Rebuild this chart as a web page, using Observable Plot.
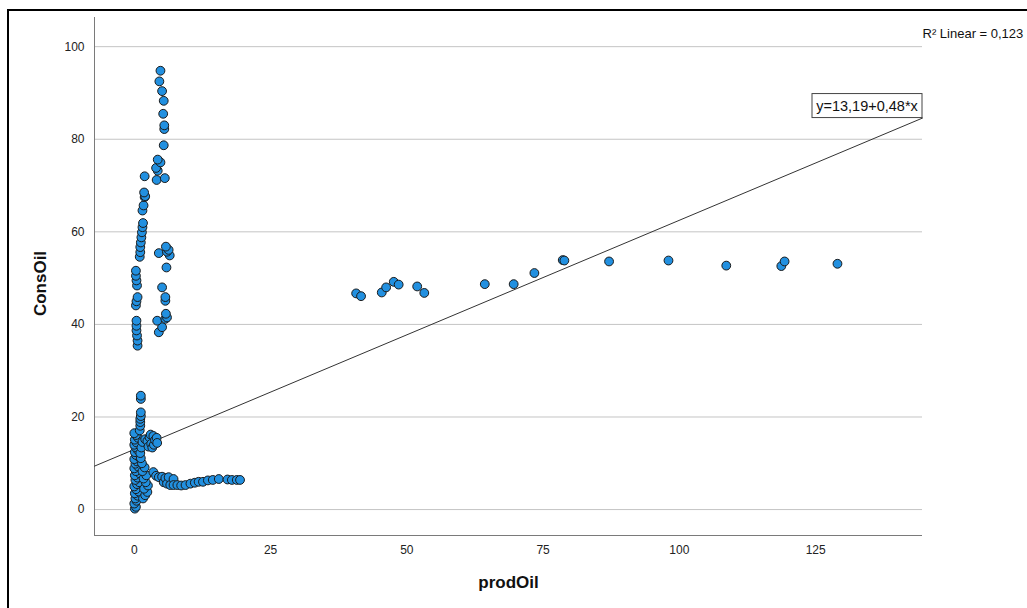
<!DOCTYPE html>
<html>
<head>
<meta charset="utf-8">
<script src="https://cdn.jsdelivr.net/npm/d3@7"></script>
<script src="https://cdn.jsdelivr.net/npm/@observablehq/plot@0.6"></script>
<style>
  html, body { margin: 0; padding: 0; background: #fff; overflow: hidden; }
  #wrap { position: relative; width: 1027px; height: 608px; overflow: hidden; }
  #border { position: absolute; left: 7px; top: 9px; width: 1100px; height: 700px; border: 2px solid #000; box-sizing: border-box; }
  #chart { position: absolute; left: 0; top: 0; }
</style>
</head>
<body>
<div id="wrap"><div id="border"></div><div id="chart"></div></div>
<script>
// ---- data (prodOil, ConsOil) ----
const colZeroLow = [[0.1,0.2],[0.3,0.6],[0.0,1.3],[0.4,1.9],[0.2,2.4],[0.6,3.0],[0.1,3.5],[0.8,3.9],[0.3,4.4],[0.0,5.0],[0.5,5.5],[0.9,5.9],[0.2,6.4],[0.6,6.9],[0.1,7.4],[1.0,7.8],[0.3,8.3],[0.0,8.9],[0.7,9.3],[0.2,9.9],[0.5,10.4],[0.0,10.9],[0.9,11.3],[0.3,11.8],[0.1,12.4],[0.6,12.9],[0.2,13.5],[0.0,14.0],[0.4,14.5],[0.1,15.1],[0.7,15.5],[0.3,16.1],[0.0,16.5]];
const colZeroRight = [[1.6,2.4],[2.0,3.1],[2.4,3.8],[1.8,4.5],[2.5,5.2],[2.1,5.9],[1.7,6.7],[2.2,7.4],[1.5,8.3],[1.9,9.1],[1.4,10.0],[1.2,11.1],[1.1,12.2],[1.3,13.4],[1.5,14.6]];
const colZeroUpper = [[1.0,17.1],[1.1,18.1],[1.1,18.9],[1.1,19.6],[1.2,20.2],[1.2,21.0],[1.2,23.9],[1.2,24.6]];
const clusterFifteen = [[2.0,15.2],[2.4,14.8],[2.6,13.6],[2.8,15.6],[3.0,16.2],[3.1,14.2],[3.3,13.4],[3.5,15.9],[3.6,14.0],[3.8,15.0],[4.1,15.5],[4.2,14.4]];
const trail = [[3.5,8.1],[4.0,7.3],[4.5,7.0],[5.1,7.1],[5.4,5.9],[5.7,6.8],[6.0,5.6],[6.3,7.0],[6.6,5.3],[7.2,6.6],[7.2,5.3],[7.9,5.3],[8.6,5.2],[9.4,5.3],[10.3,5.6],[11.1,5.8],[11.8,6.0],[12.6,6.0],[13.5,6.3],[14.4,6.4],[15.5,6.6],[17.1,6.5],[17.9,6.4],[18.8,6.4],[19.4,6.4]];
const colZeroMid = [[0.6,35.4],[0.6,36.5],[0.5,37.6],[0.4,38.7],[0.4,39.7],[0.4,40.8],[0.3,44.1],[0.4,45.0],[0.6,45.9],[0.5,48.4],[0.4,49.5],[0.3,50.5],[0.3,51.6]];
const colOneUpper = [[1.0,54.6],[1.1,55.6],[1.1,56.7],[1.2,57.7],[1.3,58.8],[1.4,59.9],[1.5,61.0],[1.6,61.9],[1.5,64.6],[1.7,65.7],[1.9,67.5],[2.0,67.7],[1.8,68.5],[1.9,72.0]];
const colFiveMid = [[4.5,38.3],[5.1,39.4],[4.2,40.8],[5.7,41.2],[6.0,41.5],[5.8,42.3],[5.7,45.1],[5.7,45.9],[5.1,48.0],[5.9,52.3],[6.5,54.9],[4.5,55.4],[6.0,55.7],[6.3,56.1],[5.8,56.8]];
const colFiveTop = [[4.1,71.2],[5.6,71.6],[4.3,73.2],[4.0,73.8],[4.8,75.0],[4.3,75.6],[5.4,78.7],[5.5,82.2],[5.5,83.0],[5.3,85.5],[5.4,88.3],[5.1,90.4],[4.6,92.5],[4.8,94.8]];
const farPoints = [[40.7,46.7],[41.6,46.1],[45.4,46.9],[46.2,48.0],[47.6,49.2],[48.5,48.6],[51.9,48.2],[53.2,46.8],[64.3,48.7],[69.6,48.7],[73.4,51.1],[78.6,53.9],[78.9,53.8],[87.1,53.6],[98.0,53.8],[108.6,52.7],[118.7,52.6],[119.3,53.6],[129.0,53.1]];

const xTicks = [0, 25, 50, 75, 100, 125];
const yTicks = [0, 20, 40, 60, 80, 100];
const xDomain = [-7.3, 144.6];
const yDomain = [-5.6, 106.3];
// fit line as drawn in the picture (labelled y=13,19+0,48*x)
const lineIntercept = 13.0;
const lineSlope = 0.495;
const eqLabel = "y=13,19+0,48*x";
const r2Label = "R\u00B2 Linear = 0,123";
const xTitle = "prodOil";
const yTitle = "ConsOil";

// ---- build ----
const points = [colZeroLow, colZeroRight, colZeroUpper, clusterFifteen, trail, colZeroMid, colOneUpper, colFiveMid, colFiveTop, farPoints]
  .flat().map(([x, y]) => ({prodOil: x, ConsOil: y}));
const fit = xDomain.map(x => ({prodOil: x, ConsOil: lineIntercept + lineSlope * x}));

const FONT = "'Liberation Sans', Arial, sans-serif";

function eqBox(index, scales) {
  const px = scales.x(xDomain[1]);
  const py = scales.y(lineIntercept + lineSlope * xDomain[1]);
  const w = 110, h = 24;
  const g = d3.create("svg:g");
  g.append("rect").attr("x", px - w).attr("y", py - h).attr("width", w).attr("height", h)
    .attr("fill", "#fff").attr("stroke", "#444").attr("stroke-width", 1);
  g.append("text").attr("x", px - w / 2).attr("y", py - h / 2).attr("text-anchor", "middle")
    .attr("dy", "0.35em").attr("font-size", 14.5).attr("fill", "#111").attr("font-family", FONT).text(eqLabel);
  return g.node();
}

const chart = Plot.plot({
  width: 1027,
  height: 608,
  marginLeft: 94,
  marginRight: 105,
  marginTop: 17,
  marginBottom: 73,
  style: {fontFamily: FONT, fontSize: "12px", background: "transparent", color: "#222", overflow: "visible"},
  x: {domain: xDomain},
  y: {domain: yDomain},
  marks: [
    Plot.ruleY(yTicks, {stroke: "#c4c4c4", strokeWidth: 1}),
    Plot.axisX({ticks: xTicks, tickSize: 0, tickPadding: 10, label: null, fontSize: 12}),
    Plot.axisY({ticks: yTicks, tickSize: 0, tickPadding: 10, label: null, fontSize: 12}),
    Plot.ruleX([xDomain[0]], {stroke: "#7a7a7a", strokeWidth: 1}),
    Plot.ruleY([yDomain[0]], {stroke: "#7a7a7a", strokeWidth: 1}),
    Plot.line(fit, {x: "prodOil", y: "ConsOil", stroke: "#333", strokeWidth: 1}),
    Plot.dot(points, {x: "prodOil", y: "ConsOil", r: 4.4, fill: "#2290e0", stroke: "#1a1a1a", strokeWidth: 1}),
    Plot.text([xTitle], {frameAnchor: "bottom", dy: 47, lineAnchor: "middle", fontSize: 17, fontWeight: "bold", fill: "#111"}),
    Plot.text([yTitle], {frameAnchor: "left", dx: -54, dy: 7, rotate: -90, textAnchor: "middle", lineAnchor: "middle", fontSize: 17, fontWeight: "bold", fill: "#111"}),
    Plot.text([r2Label], {frameAnchor: "top-right", dx: 0, dy: 16, textAnchor: "start", lineAnchor: "middle", fontSize: 13, fill: "#111"}),
    eqBox
  ]
});
document.getElementById("chart").appendChild(chart);
</script>
</body>
</html>
